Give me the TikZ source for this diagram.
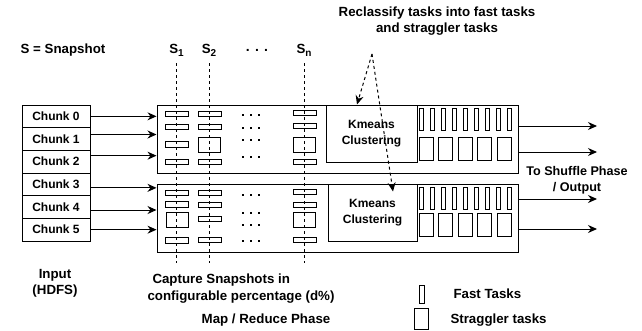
\documentclass[tikz,border=0pt]{standalone}
\usepackage{fontspec}
\setmainfont{Liberation Sans}
\usetikzlibrary{arrows.meta}
\begin{document}
\begin{tikzpicture}[x=1pt,y=-1pt,line width=1pt,
  every node/.style={font=\bfseries\fontsize{13.3}{16}\selectfont,inner sep=0pt},
  box/.style={draw,rectangle,inner sep=0pt},
  chunk/.style={box,minimum width=68pt,minimum height=22.67pt,font=\bfseries\fontsize{12}{14}\selectfont},
  mapbox/.style={box,minimum width=361pt,minimum height=68pt},
  kbox/.style={box,minimum height=57pt,align=center,font=\bfseries\fontsize{12}{16}\selectfont},
  sbox/.style={box,line width=0.9pt,minimum width=23pt,minimum height=5.5pt},
  bbox/.style={box,line width=0.9pt,minimum width=22pt,minimum height=15pt},
  fbar/.style={box,line width=0.9pt,minimum width=4pt,minimum height=22pt},
  sgbox/.style={box,line width=0.9pt,minimum width=14pt,minimum height=23pt},
  arr/.style={-{Stealth[length=9pt,width=8pt]}},
  snapdash/.style={dash pattern=on 3pt off 3pt,line width=1pt},
  dots/.style={font=\bfseries\fontsize{14}{16}\selectfont}
]
\useasboundingbox (0,0) rectangle (642,330);

% snapshot dashed lines
\coordinate (d1t) at (176.5,63); \coordinate (d1b) at (176.5,263);
\coordinate (d2t) at (209,63);   \coordinate (d2b) at (209,263);
\coordinate (dnt) at (304,63);   \coordinate (dnb) at (304,263);
\draw[snapdash] (d1t) -- (d1b);
\draw[snapdash] (d2t) -- (d2b);
\draw[snapdash] (dnt) -- (dnb);

% chunks
\foreach \i in {0,...,5}{
  \node[chunk] (c\i) at (56,{105+22.67*(\i+0.5)}) {Chunk \i};
}

% map boxes
\node[mapbox] (m1) at (337.5,139) {};
\node[mapbox] (m2) at (337.5,218) {};

% kmeans boxes
\node[kbox,minimum width=91pt] (k1) at (371.5,133.5) {Kmeans\\Clustering};
\node[kbox,minimum width=89pt] (k2) at (372.5,212.5) {Kmeans\\Clustering};

% input arrows
\draw[arr] (c0.east) -- (c0.east -| m1.west);
\draw[arr] ([yshift=4.5pt]c1.east) -- ([yshift=4.5pt]c1.east -| m1.west);
\draw[arr] ([yshift=6pt]c2.east) -- ([yshift=6pt]c2.east -| m1.west);
\draw[arr] ([yshift=-3.5pt]c3.east) -- ([yshift=-3.5pt]c3.east -| m2.west);
\draw[arr] ([yshift=-3pt]c4.east) -- ([yshift=-3pt]c4.east -| m2.west);
\draw[arr] (c5.east) -- (c5.east -| m2.west);

% snapshot boxes, upper
\node[sbox] (ua1) at (176.5,114) {};
\node[sbox] (ua2) at (176.5,127) {};
\node[sbox] (ua3) at (176.5,144.5) {};
\node[sbox] (ua4) at (176.5,162) {};
\node[sbox] (ub1) at (209.5,114) {};
\node[sbox] (ub2) at (209.5,127) {};
\node[bbox] (ub3) at (209.5,144.5) {};
\node[sbox] (ub4) at (209.5,162) {};
\node[sbox] (un1) at (304.5,113) {};
\node[sbox] (un2) at (304.5,126) {};
\node[bbox] (un3) at (304,144.5) {};
\node[sbox] (un4) at (304.5,162) {};

% snapshot boxes, lower
\node[sbox] (la1) at (176.5,193) {};
\node[sbox] (la2) at (176.5,204.5) {};
\node[bbox] (la3) at (177,220) {};
\node[sbox] (la4) at (176.5,240.5) {};
\node[sbox] (lb1) at (209.5,193) {};
\node[sbox] (lb2) at (209.5,205) {};
\node[sbox] (lb3) at (209.5,219) {};
\node[sbox] (lb4) at (209.5,240) {};
\node[sbox] (ln1) at (304.5,192) {};
\node[sbox] (ln2) at (304.5,205) {};
\node[bbox] (ln3) at (304,220) {};
\node[sbox] (ln4) at (304.5,240) {};

% ellipsis dots inside the map boxes
\foreach \y in {115,128,140,157,195,213,225,241}{
  \foreach \x in {243,251,259}{
    \fill (\x-1.2,\y-1.2) rectangle (\x+1.2,\y+1.2);
  }
}

% fast bars and straggler boxes
\foreach \i in {0,...,8}{
  \node[fbar] (uf\i) at ({421+11*\i},119.5) {};
  \node[fbar] (lf\i) at ({421+11*\i},198) {};
}
\foreach \i in {0,...,4}{
  \node[sgbox] (us\i) at ({426+19.5*\i},148.5) {};
  \node[sgbox] (ls\i) at ({426+19.5*\i},225) {};
}

% output arrows
\coordinate (o1) at (597,126);
\coordinate (o2) at (597,152);
\coordinate (o3) at (597,199);
\coordinate (o4) at (597,229);
\draw[arr] (o1 -| m1.east) -- (o1);
\draw[arr] (o2 -| m1.east) -- (o2);
\draw[arr] (o3 -| m2.east) -- (o3);
\draw[arr] (o4 -| m2.east) -- (o4);
\node[align=center,font=\bfseries\fontsize{12.6}{16}\selectfont] (shuf) at (577,180) {To Shuffle Phase\\/ Output};

% labels on top
\node (snap) at (63,50) {S = Snapshot};
\node (s1) at (176.5,50) {S\raisebox{-3pt}{\fontsize{10}{10}\selectfont 1}};
\node (s2) at (209,50) {S\raisebox{-3pt}{\fontsize{10}{10}\selectfont 2}};
\node (sn) at (304,50) {S\raisebox{-3pt}{\fontsize{10}{10}\selectfont n}};
\node[dots] (sd) at (257,50) {. . .};

% reclassify
\node[align=center] (recl) at (437,21) {Reclassify tasks into fast tasks\\and straggler tasks};
\coordinate (ap) at (372,54);
\draw[snapdash,arr] (ap) -- ([xshift=-14.5pt]k1.north);
\draw[snapdash,arr] (ap) -- ([xshift=20.5pt,yshift=-8pt]k2.north);

% bottom labels
\node[align=center] (inp) at (55,283.5) {Input\\(HDFS)};
\node[anchor=west] (cap1) at (152,280) {Capture Snapshots in};
\node[anchor=west] (cap2) at (147,297) {configurable percentage (d\%)};
\node (mrp) at (266,320) {Map / Reduce Phase};

% legend
\node[box,line width=0.9pt,minimum width=5pt,minimum height=18pt] (lgf) at (421.5,294) {};
\node[box,line width=0.9pt,minimum width=14pt,minimum height=21pt] (lgs) at (421,318.5) {};
\node[anchor=west] (lgft) at (453,294) {Fast Tasks};
\node[anchor=west] (lgst) at (450,320) {Straggler tasks};
\end{tikzpicture}
\end{document}
